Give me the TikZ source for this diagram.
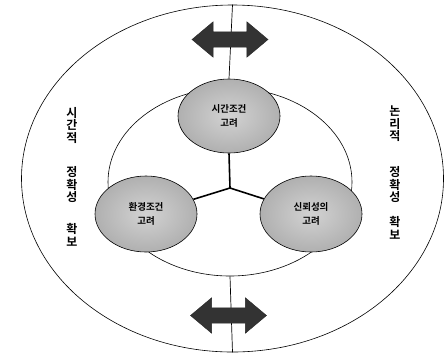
\documentclass[tikz,border=0pt]{standalone}
\usepackage{fontspec}
\newfontfamily\kr{Noto Sans CJK KR Bold}
\usetikzlibrary{shapes.geometric,shapes.arrows}
\begin{document}
\begin{tikzpicture}[x=1pt,y=-1pt,
  ring/.style={draw=black,line width=0.6pt,ellipse,inner sep=0pt},
  topic/.style={draw=black,line width=0.6pt,ellipse,inner sep=0pt,
    minimum width=102pt,minimum height=74pt,
    inner color=gray!35,outer color=gray!62,
    font=\kr\fontsize{9.5}{15}\selectfont,align=center,text=black},
  dblarrow/.style={double arrow,draw=black!85,fill=black!80,line width=0.4pt,
    minimum height=76pt,inner sep=0pt,
    double arrow head extend=10pt,double arrow tip angle=80},
  vlabel/.style={font=\kr\fontsize{12}{12.5}\selectfont,align=center,inner sep=0pt}]
\useasboundingbox (0,0) rectangle (444,354);
\node[ring,minimum width=422pt,minimum height=347pt] (outer) at (232.5,178.5) {};
\node[ring,minimum width=244pt,minimum height=188pt] (inner) at (230,182) {};
\coordinate (hub) at (230,188);
\node[topic] (t) at (229,116) {시간조건\\[-1pt]고려};
\node[topic,minimum height=76pt] (l) at (146,214) {환경조건\\[-1pt]고려};
\node[topic,minimum height=76pt] (r) at (311,214) {신뢰성의\\[-1pt]고려};
\draw[line width=0.7pt] (outer.north) -- (t.north);
\draw[line width=0.7pt] (inner.south) -- (outer.south);
\draw[line width=1.6pt] (hub) -- (t.south);
\draw[line width=1.6pt] (hub) -- (l);
\draw[line width=1.6pt] (hub) -- (r);
\node[dblarrow] (at) at (230,39.5) {\rule{0pt}{15pt}};
\node[dblarrow] (ab) at (228.5,315.5) {\rule{0pt}{15pt}};
\node[vlabel] (l1) at (72,125) {시\\간\\적};
\node[vlabel] (l2) at (72,185) {정\\확\\성};
\node[vlabel] (l3) at (72,235) {확\\보};
\node[vlabel] (r1) at (395,124) {논\\리\\적};
\node[vlabel] (r2) at (395,185) {정\\확\\성};
\node[vlabel] (r3) at (395,228) {확\\보};
\end{tikzpicture}
\end{document}
